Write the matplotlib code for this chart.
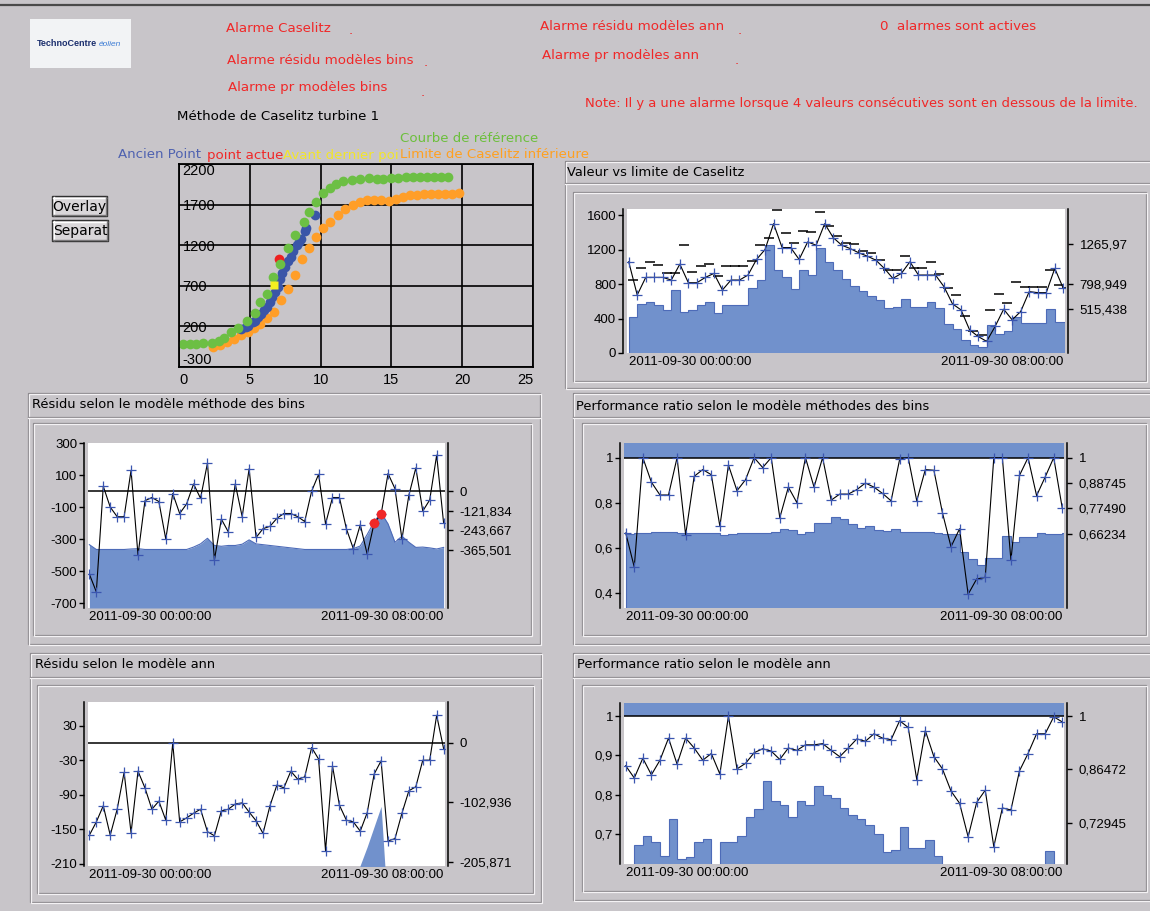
import numpy as np
import matplotlib
matplotlib.use('Agg')
import matplotlib.pyplot as plt
from matplotlib.patches import Rectangle

W, H = 1150, 911
BG = '#c8c5c9'
FILL = '#7191cc'
EDGE = '#4d6bb8'
MARK = '#3b56b0'
RED = '#f02828'
DARK = '#8a878b'
LIGHT = '#f4f2f4'
UI = 'DejaVu Sans'

plt.rcParams['font.family'] = 'Liberation Sans'

# ---------------- data ----------------
# Caselitz scatter (wind speed vs power)
ref_x = [0.3, 0.75, 1.2, 1.7, 2.3, 2.8, 3.2, 3.7, 4.2, 4.8, 5.35, 5.75, 6.2, 6.65, 7.1, 7.7, 8.2, 8.8, 9.2,
         9.7, 10.2, 10.65, 11.1, 11.6, 12.2, 12.8, 13.4, 14.0, 14.4, 15.0, 15.5, 16.0, 16.5, 17.0, 17.5, 18.0,
         18.5, 19.0]
ref_y = [-15, -15, -15, -5, 0, 20, 60, 125, 185, 270, 370, 495, 600, 805, 970, 1170, 1320, 1490, 1610,
         1735, 1840, 1900, 1955, 1985, 2005, 2015, 2025, 2015, 2010, 2025, 2030, 2035, 2038, 2040, 2042, 2044,
         2045, 2046]
lim_x = [2.4, 2.9, 3.4, 3.9, 4.4, 4.9, 5.3, 5.7, 6.2, 6.7, 7.2, 7.7, 8.2, 8.7, 9.2, 9.7, 10.2, 10.65, 11.2,
         11.7, 12.3, 12.8, 13.3, 13.8, 14.3, 14.8, 15.3, 15.8, 16.3, 16.8, 17.3, 17.8, 18.3, 18.8, 19.3, 19.8]
lim_y = [-50, -30, 10, 50, 95, 135, 185, 230, 300, 375, 530, 665, 830, 1035, 1170, 1300, 1415, 1490, 1570,
         1640, 1695, 1735, 1755, 1755, 1755, 1740, 1765, 1795, 1815, 1820, 1825, 1828, 1830, 1832, 1835, 1840]
old_x = [4.4, 4.7, 4.9, 5.2, 5.4, 5.6, 5.8, 6.0, 6.2, 6.4, 6.6, 6.8, 7.0, 7.1, 7.3, 7.5, 7.7, 7.9, 8.05,
         8.3, 8.5, 8.65, 8.9, 9.0, 9.6]
old_y = [165, 190, 210, 250, 270, 320, 350, 400, 435, 500, 560, 620, 690, 780, 860, 930, 1000, 1060, 1130,
         1200, 1240, 1280, 1380, 1410, 1570]
cur_x, cur_y = [7.05], [1025]
prev_x, prev_y = [6.7], [715]
scatter_xticks = [0, 5, 10, 15, 20, 25]
scatter_xtl = ['0', '5', '10', '15', '20', '25']
scatter_yticks = [-300, 200, 700, 1200, 1700, 2200]
scatter_ytl = ['-300', '200', '700', '1200', '1700', '2200']

date_labels = ['2011-09-30 00:00:00', '2011-09-30 08:00:00']

# Valeur vs limite de Caselitz
cas_val = [1058, 673, 877, 877, 877, 846, 1031, 815, 815, 877, 923, 731, 846, 846, 904, 1085, 1200, 1500,
           1223, 1223, 1085, 1288, 1250, 1500, 1338, 1250, 1211, 1162, 1123, 1077, 981, 865, 923, 1058, 904,
           904, 904, 769, 569, 500, 269, 192, 135, 308, 508, 385, 481, 712, 700, 700, 981, 750]
cas_dash = [850, 990, 1060, 1020, 930, 930, 1250, 940, 1010, 1030, 890, 1010, 1010, 1010, 1070, 1250, 1330,
            1660, 1390, 1280, 1420, 1400, 1640, 1470, 1360, 1280, 1260, 1180, 1160, 1080, 960, 960, 1130, 980,
            980, 1050, 920, 750, 670, 430, 260, 210, 500, 690, 580, 820, 760, 760, 760, 960, 790, 750]
cas_lim = [423, 565, 590, 560, 495, 735, 480, 495, 560, 595, 460, 560, 560, 560, 750, 850, 1255, 960, 880,
           745, 960, 900, 1220, 1060, 960, 860, 780, 720, 660, 615, 520, 530, 630, 530, 530, 590, 520, 340,
           280, 150, 90, 75, 320, 215, 255, 420, 350, 350, 350, 510, 360, 360]
cas_lt = [0, 400, 800, 1200, 1600]
cas_ltl = ['0', '400', '800', '1200', '1600']
cas_rt = [515.438, 798.949, 1265.97]
cas_rtl = ['515,438', '798,949', '1265,97']

# Residu modele bins
bins_res = [-520, -630, 30, -100, -160, -160, 130, -400, -60, -40, -65, -300, -15, -140, -80, 45, -45, 175,
            -430, -175, -255, 45, -160, 140, -290, -235, -220, -170, -140, -140, -160, -190, 0, 105, -205,
            -40, -40, -235, -360, -210, -395, -200, -145, 110, 15, -300, -25, 145, -125, -55, 225, -200]
bins_lim = [-335, -365, -365, -365, -365, -365, -362, -360, -365, -365, -365, -365, -365, -365, -365, -350,
            -330, -295, -340, -345, -340, -340, -332, -305, -330, -335, -340, -345, -350, -355, -360, -365,
            -365, -365, -365, -365, -365, -365, -360, -343, -271, -192, -135, -205, -320, -282, -320, -352,
            -350, -355, -362, -352]
alarm_idx = [41, 42]
bins_lt = [-700, -500, -300, -100, 100, 300]
bins_ltl = ['-700', '-500', '-300', '-100', '100', '300']
bins_rt = [0, -121.834, -243.667, -365.501]
bins_rtl = ['0', '-121,834', '-243,667', '-365,501']

# Performance ratio modele bins
prb_val = [0.665, 0.514, 1.0, 0.891, 0.834, 0.834, 1.0, 0.657, 0.917, 0.947, 0.924, 0.695, 0.967, 0.853,
           0.902, 1.0, 0.956, 1.0, 0.733, 0.869, 0.8, 1.0, 0.869, 1.0, 0.811, 0.838, 0.838, 0.858, 0.887,
           0.869, 0.841, 0.808, 0.992, 1.0, 0.808, 0.947, 0.944, 0.755, 0.604, 0.684, 0.393, 0.461, 0.468,
           1.0, 1.0, 0.544, 0.921, 1.0, 0.831, 0.914, 1.0, 0.775]
prb_lim = [0.66, 0.665, 0.665, 0.668, 0.668, 0.668, 0.665, 0.665, 0.665, 0.665, 0.665, 0.655, 0.662, 0.665,
           0.663, 0.663, 0.665, 0.67, 0.684, 0.68, 0.66, 0.67, 0.71, 0.71, 0.736, 0.728, 0.705, 0.688, 0.695,
           0.68, 0.672, 0.685, 0.668, 0.668, 0.668, 0.668, 0.665, 0.662, 0.66, 0.58, 0.55, 0.524, 0.554,
           0.554, 0.653, 0.624, 0.647, 0.647, 0.665, 0.66, 0.66, 0.665]
prb_lt = [0.4, 0.6, 0.8, 1.0]
prb_ltl = ['0,4', '0,6', '0,8', '1']
prb_rt = [1.0, 0.88745, 0.77490, 0.66234]
prb_rtl = ['1', '0,88745', '0,77490', '0,66234']

# Residu modele ann
ann_res = [-160, -137, -109, -160, -115, -51, -156, -49, -78, -115, -101, -134, 0, -137, -130, -122, -115,
           -154, -161, -118, -115, -106, -104, -120, -135, -157, -109, -73, -78, -49, -63, -59, -8, -28,
           -187, -40, -108, -134, -137, -153, -121, -54, -31, -170, -166, -122, -83, -76, -30, -30, 48, -10]
ann_lim = [-305, -310, -310, -305, -300, -300, -295, -300, -305, -310, -310, -305, -300, -295, -300, -305,
           -300, -290, -280, -290, -300, -305, -300, -290, -285, -295, -300, -305, -310, -310, -305, -300,
           -300, -305, -310, -310, -300, -280, -250, -212, -180, -145, -110, -300, -310, -300, -295, -300,
           -305, -300, -295, -300]
ann_lt = [-210, -150, -90, -30, 30]
ann_ltl = ['-210', '-150', '-90', '-30', '30']
ann_rt = [0, -102.936, -205.871]
ann_rtl = ['0', '-102,936', '-205,871']

# Performance ratio modele ann
pra_val = [0.874, 0.843, 0.893, 0.851, 0.888, 0.944, 0.878, 0.944, 0.919, 0.888, 0.905, 0.853, 1.0, 0.866,
           0.880, 0.907, 0.917, 0.911, 0.890, 0.919, 0.913, 0.927, 0.927, 0.930, 0.913, 0.897, 0.919, 0.942,
           0.936, 0.955, 0.944, 0.940, 0.988, 0.971, 0.839, 0.963, 0.897, 0.866, 0.810, 0.779, 0.694, 0.781,
           0.812, 0.669, 0.767, 0.762, 0.861, 0.905, 0.955, 0.955, 0.998, 0.985]
nan = np.nan
pra_lim = [nan, 0.672, 0.697, 0.680, 0.645, 0.740, 0.637, 0.643, 0.680, 0.689, nan, 0.680, 0.680, 0.695,
           0.744, 0.764, 0.835, 0.785, 0.775, 0.744, 0.785, 0.775, 0.823, 0.80, 0.793, 0.768, 0.748, 0.740,
           0.725, 0.701, 0.655, 0.66, 0.72, 0.665, 0.665, 0.687, 0.645, nan, nan, nan, nan, nan, nan, nan,
           nan, nan, nan, nan, nan, 0.658, nan, nan]
pra_lt = [0.7, 0.8, 0.9, 1.0]
pra_ltl = ['0,7', '0,8', '0,9', '1']
pra_rt = [1.0, 0.86472, 0.72945]
pra_rtl = ['1', '0,86472', '0,72945']

# ---------------- figure ----------------
fig = plt.figure(figsize=(W / 100, H / 100), dpi=100, facecolor=BG)
bg = fig.add_axes([0, 0, 1, 1])
bg.set_xlim(0, W)
bg.set_ylim(H, 0)
bg.set_axis_off()


def px_box(x0, y0, x1, y1):
    return [x0 / W, 1 - y1 / H, (x1 - x0) / W, (y1 - y0) / H]


def etched(x0, y0, x1, y1):
    bg.add_patch(Rectangle((x0, y0), x1 - x0, y1 - y0, fill=False, ec=DARK, lw=0.9))
    bg.add_patch(Rectangle((x0 + 1, y0 + 1), x1 - x0, y1 - y0, fill=False, ec=LIGHT, lw=0.9))


def hline(x0, x1, y):
    bg.plot([x0, x1], [y, y], color=DARK, lw=0.9)
    bg.plot([x0, x1], [y + 1, y + 1], color=LIGHT, lw=0.9)


def ui_text(x, y, s, color='black', size=9.6):
    bg.text(x, y, s, color=color, fontsize=size, family=UI, va='center', ha='left')


def button(x0, y0, x1, y1, label):
    bg.add_patch(Rectangle((x0, y0), x1 - x0, y1 - y0, fc='#d9d6d9', ec='#303030', lw=1.0))
    bg.plot([x0 + 1, x1 - 1], [y0 + 1.5, y0 + 1.5], color='white', lw=1.0)
    bg.plot([x0 + 1.5, x0 + 1.5], [y0 + 1, y1 - 1], color='white', lw=1.0)
    bg.plot([x0 + 1, x1 - 1.5], [y1 - 1.5, y1 - 1.5], color='#7a787a', lw=1.0)
    bg.plot([x1 - 1.5, x1 - 1.5], [y0 + 1, y1 - 1], color='#7a787a', lw=1.0)
    bg.text((x0 + x1) / 2, (y0 + y1) / 2 + 0.5, label, fontsize=10, family=UI, ha='center', va='center')


# top border
bg.plot([0, W], [5, 5], color='#4a4a4a', lw=1.6)

# logo
bg.add_patch(Rectangle((30, 19), 101, 49, fc='#f2f3f5', ec='none'))
bg.text(37, 44, 'TechnoCentre', fontsize=6.5, weight='bold', color='#1c2f6e', va='center')
bg.text(99, 44, 'éolien', fontsize=6, style='italic', color='#3b7bd4', va='center')

# alarm texts
ui_text(226, 29, 'Alarme Caselitz', RED)
ui_text(349, 31, '.', RED)
ui_text(227, 60, 'Alarme résidu modèles bins', RED)
ui_text(424, 63, '.', RED)
ui_text(228, 88, 'Alarme pr modèles bins', RED)
ui_text(421, 92, '.', RED)
ui_text(540, 27, 'Alarme résidu modèles ann', RED)
ui_text(738, 30, '.', RED)
ui_text(542, 55, 'Alarme pr modèles ann', RED)
ui_text(735, 60, '.', RED)
ui_text(880, 27, '0  alarmes sont actives', RED)
ui_text(585, 104, 'Note: Il y a une alarme lorsque 4 valeurs consécutives sont en dessous de la limite.',
        RED, size=9.45)

ui_text(177, 117, 'Méthode de Caselitz turbine 1')
ui_text(400, 139, 'Courbe de référence', '#6cbf3c')
ui_text(118, 155, 'Ancien Point', '#4f62b0')
ui_text(207, 155, 'point actue', RED)
ui_text(283, 155, 'Avant dernier poi', '#f2e52a')
ui_text(400, 155, 'Limite de Caselitz inférieure', '#ffa020')

button(52, 196, 107, 216, 'Overlay')
button(52, 220, 108, 241, 'Separat')

# group boxes
etched(565, 161, 1152, 388); hline(565, 1152, 183); etched(573, 192, 1146, 381)
etched(28, 393, 540, 644); hline(28, 540, 417); etched(33, 423, 531, 635)
etched(573, 393, 1152, 644); hline(573, 1152, 417); etched(582, 423, 1146, 635)
etched(30, 653, 541, 902); hline(30, 541, 677); etched(37, 685, 533, 893)
etched(573, 653, 1152, 900); hline(573, 1152, 677); etched(582, 685, 1146, 891)

ui_text(567, 172, 'Valeur vs limite de Caselitz', size=9.4)
ui_text(32, 405, 'Résidu selon le modèle méthode des bins', size=9.4)
ui_text(576, 407, 'Performance ratio selon le modèle méthodes des bins', size=9.4)
ui_text(35, 664, 'Résidu selon le modèle ann', size=9.4)
ui_text(577, 664, 'Performance ratio selon le modèle ann', size=9.4)

# ---------------- Caselitz scatter ----------------
sc = fig.add_axes(px_box(179, 164, 533, 367))
sc.set_facecolor(BG)
sc.plot(lim_x, lim_y, 'o', color='#ff9e28', ms=7, mec='none')
sc.plot(old_x, old_y, 'o', color='#3a55a8', ms=7, mec='none')
sc.plot(cur_x, cur_y, 'o', color='#ee2020', ms=7, mec='none')
sc.plot(ref_x, ref_y, 'o', color='#6cbf44', ms=7, mec='none')
sc.plot(prev_x, prev_y, 's', color='#f4f020', ms=5.5, mec='none')
sc.set_xlim(0, 25)
sc.set_ylim(-300, 2200)
sc.set_xticks(scatter_xticks, scatter_xtl)
sc.set_yticks(scatter_yticks, scatter_ytl)
sc.grid(True, color='black', lw=1.2)
for s in sc.spines.values():
    s.set_linewidth(1.3)
sc.tick_params(axis='y', direction='in', length=0, pad=-2.5, labelsize=10.5)
sc.tick_params(axis='x', length=0, pad=4, labelsize=10.5)
ylabs = sc.get_yticklabels()
for lab in ylabs:
    lab.set_ha('left')
ylabs[0].set_va('bottom')
ylabs[-1].set_va('top')
xlabs = sc.get_xticklabels()
xlabs[0].set_ha('left')
xlabs[-1].set_ha('right')


# ---------------- time series panels ----------------
def panel(rect, ylim, lt, ltl, rt, rtl, n):
    ax = fig.add_axes(px_box(*rect))
    ax.set_facecolor('white')
    ax.set_xlim(-0.2, n - 0.8)
    ax.set_ylim(*ylim)
    for s in ('top', 'bottom', 'right'):
        ax.spines[s].set_visible(False)
    ax.spines['left'].set_position(('outward', 3))
    ax.spines['left'].set_linewidth(1.1)
    ax.set_yticks(lt, ltl)
    ax.tick_params(axis='y', length=3.5, width=1, pad=1.2, labelsize=9.5)
    ax.set_xticks([0, n - 1], date_labels)
    ax.tick_params(axis='x', length=0, pad=2.5, labelsize=9.5)
    xl = ax.get_xticklabels()
    xl[0].set_ha('left')
    xl[-1].set_ha('right')
    ax2 = ax.twinx()
    ax2.set_ylim(*ylim)
    for s in ('top', 'bottom', 'left'):
        ax2.spines[s].set_visible(False)
    ax2.spines['right'].set_position(('outward', 2))
    ax2.spines['right'].set_linewidth(1.1)
    ax2.set_yticks(rt, rtl)
    ax2.tick_params(axis='y', length=3.5, width=1, pad=5, labelsize=9.5)
    return ax


def value_line(ax, vals):
    ax.plot(np.arange(len(vals)), vals, color='black', lw=0.8, marker='+', ms=6.5, mew=0.9,
            mec=MARK, zorder=4)


# Valeur vs limite de Caselitz
tr = panel((627, 209, 1065, 353), (0, 1670), cas_lt, cas_ltl, cas_rt, cas_rtl, len(cas_val))
tr.stairs(cas_lim, np.arange(len(cas_lim) + 1), baseline=0, fill=True, facecolor=FILL,
          edgecolor=EDGE, lw=0.8, zorder=1)
tr.plot(np.arange(len(cas_dash)) + 0.45, cas_dash, ls='none', marker='_', ms=6.5, mew=1.1,
        color='black', zorder=3)
value_line(tr, cas_val)

# Residu bins
ml = panel((88, 443, 445, 608), (-731, 301), bins_lt, bins_ltl, bins_rt, bins_rtl, len(bins_res))
xb = np.arange(len(bins_lim))
ml.fill_between(xb, bins_lim, ml.get_ylim()[0], color=FILL, lw=0, zorder=1)
ml.plot(xb, bins_lim, color=EDGE, lw=0.8, zorder=1.5)
ml.axhline(0, color='black', lw=1.1, zorder=2)
value_line(ml, bins_res)
ml.plot(np.array(alarm_idx), np.array(bins_res)[alarm_idx], 'o', color=RED, ms=7, mec='none', zorder=5)

# Performance ratio bins
mr = panel((624, 443, 1064, 608), (0.332, 1.065), prb_lt, prb_ltl, prb_rt, prb_rtl, len(prb_val))
mr.axhspan(1.0, mr.get_ylim()[1], color=FILL, lw=0, zorder=1)
mr.stairs(prb_lim, np.arange(len(prb_lim) + 1), baseline=0.2, fill=True, facecolor=FILL,
          edgecolor=EDGE, lw=0.8, zorder=1)
mr.axhline(1.0, color='black', lw=1.1, zorder=2)
value_line(mr, prb_val)

# Residu ann
bl = panel((88, 702, 445, 866), (-213.5, 71), ann_lt, ann_ltl, ann_rt, ann_rtl, len(ann_res))
xa = np.arange(len(ann_lim))
bl.fill_between(xa, ann_lim, -400, color=FILL, lw=0, zorder=1)
bl.axhline(0, color='black', lw=1.1, zorder=2)
value_line(bl, ann_res)

# Performance ratio ann
br = panel((624, 703, 1064, 864), (0.625, 1.033), pra_lt, pra_ltl, pra_rt, pra_rtl, len(pra_val))
br.axhspan(1.0, br.get_ylim()[1], color=FILL, lw=0, zorder=1)
br.stairs(pra_lim, np.arange(len(pra_lim) + 1), baseline=0.5, fill=True, facecolor=FILL,
          edgecolor=EDGE, lw=0.8, zorder=1)
br.axhline(1.0, color='black', lw=1.1, zorder=2)
value_line(br, pra_val)

fig.savefig('out.png', dpi=100, facecolor=BG)
